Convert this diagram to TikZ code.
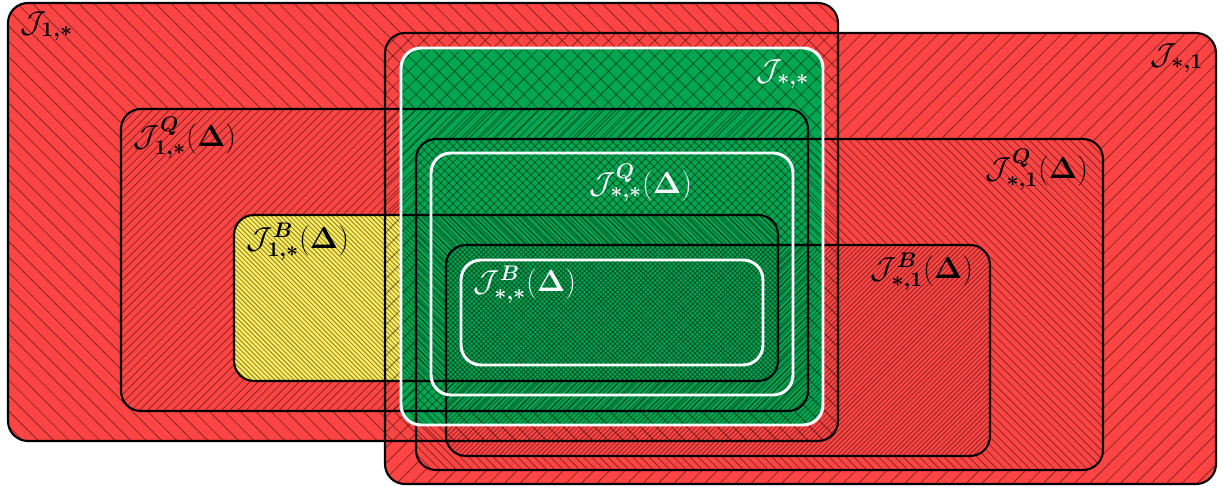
\documentclass[tikz,border=0pt]{standalone}
\usepackage{amsmath,bm}
\definecolor{setred}{RGB}{255,68,68}
\definecolor{setgreen}{RGB}{0,166,80}
\definecolor{setyellow}{RGB}{252,236,92}
\def\BoxA{(8,3) rectangle (838,441)}
\def\BoxB{(385,33) rectangle (1216,484)}
\def\BoxQa{(121,109) rectangle (808,411)}
\def\BoxQb{(416,139) rectangle (1103,470)}
\def\BoxBa{(234,215) rectangle (778,381)}
\def\BoxBb{(446,245) rectangle (990,456)}
\def\BoxS{(401,48) rectangle (823,425)}
\def\BoxQS{(431,153) rectangle (793,395)}
\def\BoxBS{(461,260) rectangle (763,365)}
% #1 x0, #2 y0, #3 x1, #4 y1, #5 horizontal step (px)
\newcommand\HatchNW[5]{%
  \pgfmathtruncatemacro\hN{((#3-#1)+(#4-#2))/#5+2}%
  \foreach \i in {0,...,\hN}{%
    \pgfmathsetmacro\cc{#1-#4+(\i-1)*#5}%
    \draw[hatchline] ({\cc+#2},#2) -- ({\cc+#4},#4);%
  }}
\newcommand\HatchNE[5]{%
  \pgfmathtruncatemacro\hN{((#3-#1)+(#4-#2))/#5+2}%
  \foreach \i in {0,...,\hN}{%
    \pgfmathsetmacro\cc{#1+#2+(\i-1)*#5}%
    \draw[hatchline] ({\cc-#2},#2) -- ({\cc-#4},#4);%
  }}
\tikzset{
  rc/.style={rounded corners=0.4cm},
  hatchline/.style={draw=black,line width=0.45pt,draw opacity=0.45},
  blackline/.style={draw=black,line width=1.2pt,rc},
  whiteline/.style={draw=white,line width=1.7pt,rc},
  lab/.style={inner sep=0pt,font=\fontsize{18}{20}\selectfont},
  wlab/.style={lab,text=white}
}
\begin{document}
\begin{tikzpicture}[x=0.02cm,y=-0.02cm]
\useasboundingbox (0,0) rectangle (1225,486);
% base fills
\fill[setred,rc] \BoxA;
\fill[setred,rc] \BoxB;
\fill[setyellow,rc] \BoxBa;
\fill[setgreen,rc] \BoxS;
% hatching, family (1,*)
\begin{scope}[rc,even odd rule]
  \clip \BoxA \BoxQa;
  \HatchNW{8}{3}{838}{441}{15.4}
\end{scope}
\begin{scope}[rc,even odd rule]
  \clip \BoxQa \BoxBa;
  \HatchNE{121}{109}{808}{411}{8.2}
\end{scope}
\begin{scope}[rc]
  \clip \BoxBa;
  \HatchNW{234}{215}{778}{381}{4.7}
\end{scope}
% hatching, family (*,1)
\begin{scope}[rc,even odd rule]
  \clip \BoxB \BoxQb;
  \HatchNE{385}{33}{1216}{484}{15.4}
\end{scope}
\begin{scope}[rc,even odd rule]
  \clip \BoxQb \BoxBb;
  \HatchNW{416}{139}{1103}{470}{8.2}
\end{scope}
\begin{scope}[rc]
  \clip \BoxBb;
  \HatchNE{446}{245}{990}{456}{4.7}
\end{scope}
% outlines
\draw[blackline] \BoxA;
\draw[blackline] \BoxB;
\draw[blackline] \BoxQa;
\draw[blackline] \BoxQb;
\draw[blackline] \BoxBa;
\draw[blackline] \BoxBb;
\draw[whiteline] \BoxS;
\draw[whiteline] \BoxQS;
\draw[whiteline] \BoxBS;
% labels
\node[lab] (lA) at (47,26) {$\mathcal{J}_{\bm{1,*}}$};
\node[lab] (lB) at (1177,58) {$\mathcal{J}_{\bm{*,1}}$};
\node[lab] (lQa) at (185,138) {$\mathcal{J}^{\bm{Q}}_{\bm{1,*}}(\bm{\Delta})$};
\node[lab] (lQb) at (1037,170) {$\mathcal{J}^{\bm{Q}}_{\bm{*,1}}(\bm{\Delta})$};
\node[lab] (lBa) at (298,242) {$\mathcal{J}^{\bm{B}}_{\bm{1,*}}(\bm{\Delta})$};
\node[lab] (lBb) at (922,272) {$\mathcal{J}^{\bm{B}}_{\bm{*,1}}(\bm{\Delta})$};
\node[wlab] (lS) at (783,74) {$\mathcal{J}_{\bm{*,*}}$};
\node[wlab] (lQS) at (641,183) {$\mathcal{J}^{\bm{Q}}_{\bm{*,*}}(\bm{\Delta})$};
\node[wlab] (lBS) at (525,285) {$\mathcal{J}^{\bm{B}}_{\bm{*,*}}(\bm{\Delta})$};
\end{tikzpicture}
\end{document}
